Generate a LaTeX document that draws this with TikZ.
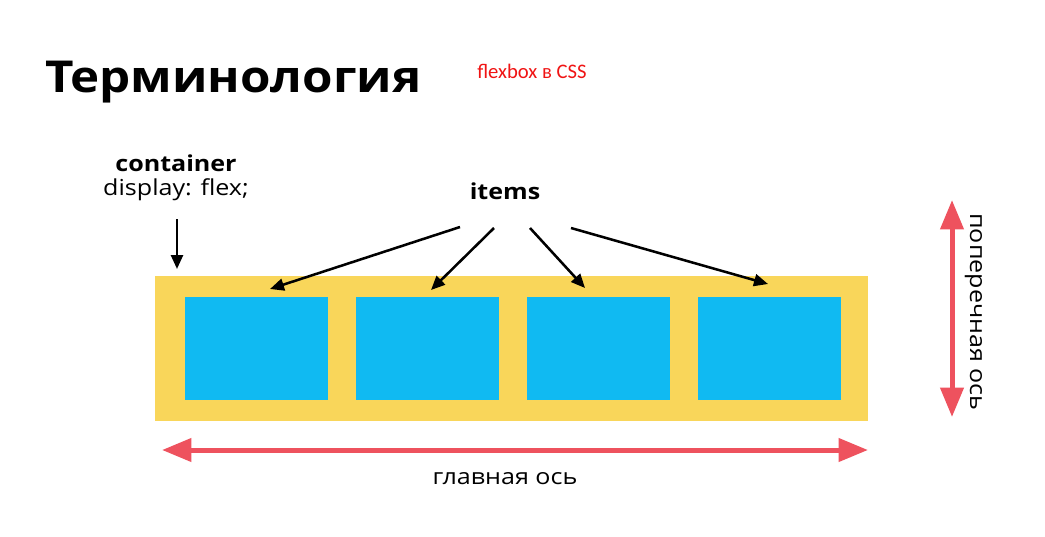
\documentclass[tikz,border=0pt]{standalone}
\usepackage{fontspec}
\setmainfont{Open Sans}
\newfontfamily\wide[FakeStretch=1.14]{Open Sans}
\newfontfamily\widetitle[FakeStretch=1.12]{Open Sans}
\newfontfamily\calib{Carlito}
\usetikzlibrary{arrows.meta}
\definecolor{contyellow}{RGB}{249,214,90}
\definecolor{itemblue}{RGB}{16,186,242}
\definecolor{axisred}{RGB}{238,82,94}
\definecolor{cssred}{RGB}{240,20,20}
\begin{document}
\begin{tikzpicture}[x=0.75pt,y=-0.75pt,
  itembox/.style={draw=none,fill=itemblue,minimum width=107.25pt,minimum height=77.25pt,inner sep=0pt,anchor=north west},
  pointer/.style={line width=1.9pt,-{Triangle[length=10.5pt,width=9pt]}},
  axisarrow/.style={line width=3.75pt,axisred,{Triangle[length=22pt,width=17pt]}-{Triangle[length=22pt,width=17pt]}},
  lbl/.style={inner sep=0pt,font=\wide\fontsize{16.5}{20}\selectfont}
]
\useasboundingbox (0,0) rectangle (1045,536);
\fill[white] (0,0) rectangle (1045,536);
% title
\node[anchor=base west,inner sep=0pt,font=\widetitle\fontsize{33}{40}\selectfont\bfseries] (title) at (45,92) {Терминология};
\node[anchor=base west,inner sep=0pt,text=cssred,font=\calib\fontsize{15.5}{18}\selectfont] (css) at (477,78) {flexbox в CSS};
% container label
\node[lbl,anchor=base,font=\wide\fontsize{16.5}{20}\selectfont\bfseries] (cont) at (176,171) {container};
\node[lbl,anchor=base] (disp) at (176,195) {display: flex;};
% container
\node[draw=none,fill=contyellow,minimum width=534.75pt,minimum height=108.75pt,inner sep=0pt,anchor=north west] (box) at (155,276) {};
\node[itembox] (i1) at (185,297) {};
\node[itembox] (i2) at (356,297) {};
\node[itembox] (i3) at (527,297) {};
\node[itembox] (i4) at (698,297) {};
% container arrow
\coordinate (ca) at (177,219);
\coordinate (cb) at (177,269);
\draw[pointer] (ca) -- (cb);
% items
\node[lbl,anchor=base,font=\wide\fontsize{16.5}{20}\selectfont\bfseries] (items) at (505,199) {items};
\coordinate (s1) at (460,227);
\coordinate (s2) at (494,228);
\coordinate (s3) at (530,228);
\coordinate (s4) at (571,228);
\coordinate (e1) at (270,289);
\coordinate (e2) at (431,290);
\coordinate (e3) at (585,288);
\coordinate (e4) at (768,284);
\draw[pointer] (s1) -- (e1);
\draw[pointer] (s2) -- (e2);
\draw[pointer] (s3) -- (e3);
\draw[pointer] (s4) -- (e4);
% main axis
\coordinate (ml) at (162,450);
\coordinate (mr) at (868,450);
\draw[axisarrow] (ml) -- (mr);
\node[lbl,anchor=base] (main) at (505,484) {главная ось};
% cross axis
\coordinate (ct) at (952,200);
\coordinate (cbt) at (952,417);
\draw[axisarrow] (ct) -- (cbt);
\node[lbl,rotate=-90,anchor=base] (cross) at (970,312) {поперечная ось};
\end{tikzpicture}
\end{document}
